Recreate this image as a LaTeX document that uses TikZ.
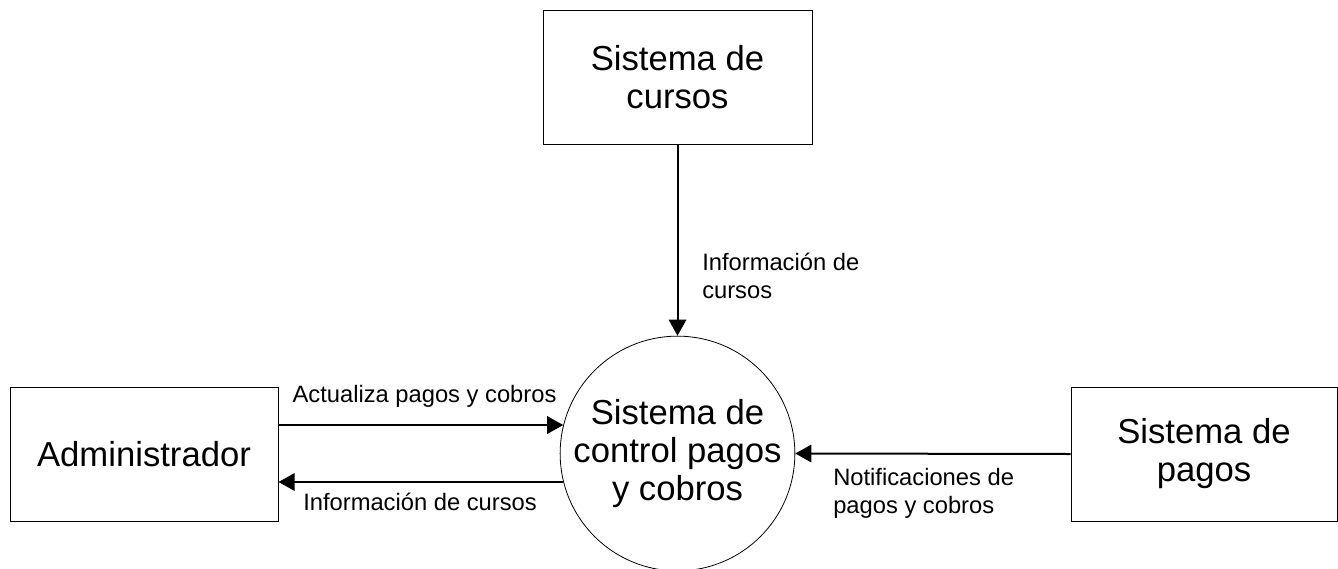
\documentclass[tikz,border=0pt]{standalone}
\usepackage{fontspec}
\setmainfont{Liberation Sans}
\usetikzlibrary{arrows.meta}
\begin{document}
\begin{tikzpicture}[x=0.75pt,y=-0.75pt,
  entity/.style={draw=black, line width=0.75pt, inner sep=0pt, align=center, font=\fontsize{26}{28.5}\selectfont},
  proc/.style={draw=black, line width=0.6pt, circle, inner sep=0pt, minimum size=171.75pt, align=center, font=\fontsize{26}{28.5}\selectfont},
  flow/.style={line width=1.5pt, -{Triangle[length=12pt,width=13pt]}},
  lbl/.style={inner sep=0pt, font=\fontsize{17.8}{21}\selectfont, align=left}]
\useasboundingbox (0,0) rectangle (1338,568);
\node[entity, minimum width=201.75pt, minimum height=100.5pt] (cursos) at (677.5,77) {Sistema de\\cursos};
\node[entity, minimum width=201pt, minimum height=100.5pt] (admin) at (144,454) {Administrador};
\node[entity, minimum width=199.5pt, minimum height=100.5pt] (pagos) at (1204,454) {Sistema de\\pagos};
\node[proc] (circ) at (677.5,453.5) {Sistema de\\control pagos\\y cobros};
\draw[flow] (cursos.south) -- (circ.north);
\draw[flow] (admin.east |- circ.166.6) -- (circ.166.6);
\draw[flow] (circ.194.4) -- (admin.east |- circ.194.4);
\draw[flow] (pagos.west) -- (circ.east);
\node[lbl, anchor=west] (l1) at (702,276) {Información de\\cursos};
\node[lbl, anchor=base] (l2) at (424.5,402) {Actualiza pagos y cobros};
\node[lbl, anchor=base] (l3) at (420,510.5) {Información de cursos};
\node[lbl, anchor=west] (l4) at (833,493) {Notificaciones de\\pagos y cobros};
\end{tikzpicture}
\end{document}
